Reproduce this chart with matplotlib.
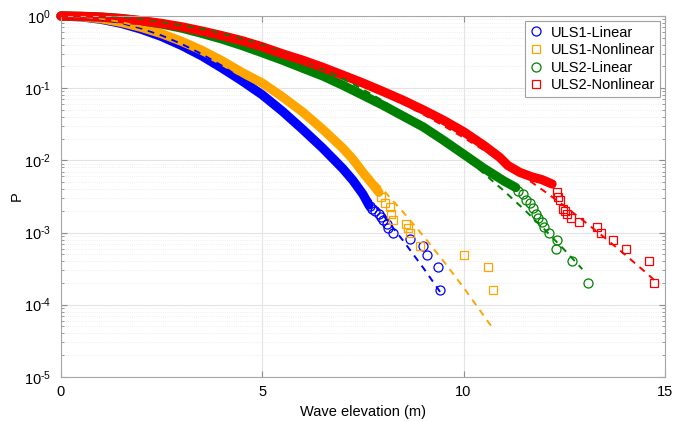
import matplotlib
matplotlib.use('Agg')
import matplotlib.pyplot as plt

plt.rcParams['font.family'] = ['Liberation Sans', 'DejaVu Sans']
plt.rcParams['mathtext.fontset'] = 'custom'
plt.rcParams['mathtext.rm'] = 'Liberation Sans'
plt.rcParams['mathtext.it'] = 'Liberation Sans:italic'

# ULS1 - linear (dense part and sparse tail of the exceedance curve)
blue_body_x = [0, 0.5, 1, 1.5, 2, 2.5, 3, 3.5, 4, 4.5, 5, 5.5, 6, 6.5, 7, 7.25, 7.5, 7.65]
blue_body_p = [1.0, 0.975, 0.90, 0.79, 0.655, 0.52, 0.39, 0.28, 0.19, 0.126, 0.081, 0.048,
               0.027, 0.0148, 0.0077, 0.0053, 0.0034, 0.0024]
blue_tail_x = [7.68, 7.72, 7.80, 7.90, 7.96, 8.00, 8.09, 8.13, 8.25, 8.68, 9.00, 9.10, 9.37, 9.41]
blue_tail_p = [2.3e-3, 2.13e-3, 1.97e-3, 1.8e-3, 1.64e-3, 1.48e-3, 1.31e-3, 1.15e-3, 9.8e-4,
               8.2e-4, 6.6e-4, 4.9e-4, 3.3e-4, 1.6e-4]
blue_fit_x = [0, 0.5, 1, 1.5, 2, 2.5, 3, 3.5, 4, 4.5, 5, 5.5, 6, 6.5, 7, 7.5, 8, 8.5, 9, 9.45]
blue_fit_p = [1.0, 0.9755, 0.906, 0.800, 0.673, 0.538, 0.410, 0.297, 0.2045, 0.134, 0.0838,
              0.0498, 0.0281, 0.01513, 0.00774, 0.00377, 0.00175, 7.71e-4, 3.24e-4, 1.42e-4]

# ULS1 - nonlinear
orange_body_x = [0, 0.5, 1, 1.5, 2, 2.5, 3, 3.5, 4, 4.5, 5, 5.5, 6, 6.5, 7, 7.25, 7.5, 7.75, 7.9]
orange_body_p = [1.0, 0.98, 0.915, 0.815, 0.695, 0.57, 0.445, 0.335, 0.24, 0.165, 0.118, 0.076,
                 0.047, 0.027, 0.0148, 0.0104, 0.0068, 0.0046, 0.0036]
orange_tail_x = [7.96, 8.05, 8.17, 8.21, 8.25, 8.57, 8.63, 8.67, 8.92, 10.02, 10.60, 10.74]
orange_tail_p = [3.1e-3, 2.6e-3, 2.26e-3, 1.8e-3, 1.48e-3, 1.31e-3, 1.15e-3, 9.8e-4, 6.6e-4,
                 4.9e-4, 3.3e-4, 1.6e-4]
orange_fit_x = [0, 0.5, 1, 1.5, 2, 2.5, 3, 3.5, 4, 4.5, 5, 5.5, 6, 6.5, 7, 7.5, 8, 8.5, 9,
                9.5, 10, 10.7]
orange_fit_p = [1.0, 0.979, 0.917, 0.823, 0.707, 0.582, 0.459, 0.346, 0.250, 0.173, 0.1148,
                0.0728, 0.0443, 0.0258, 0.01436, 0.00766, 0.00392, 0.00192, 9.0e-4, 4.03e-4,
                1.73e-4, 4.94e-5]

# ULS2 - linear
green_body_x = [0, 0.5, 1, 1.5, 2, 2.5, 3, 3.5, 4, 4.5, 5, 5.5, 6, 6.5, 7, 7.5, 8, 8.5, 9,
                9.5, 10, 10.5, 11, 11.3]
green_body_p = [1.0, 0.992, 0.97, 0.925, 0.86, 0.775, 0.68, 0.575, 0.48, 0.39, 0.31, 0.245,
                0.19, 0.148, 0.11, 0.08, 0.058, 0.041, 0.029, 0.019, 0.0122, 0.0078, 0.0052,
                0.0042]
green_tail_x = [11.36, 11.48, 11.56, 11.65, 11.73, 11.81, 11.85, 11.94, 12.00, 12.13, 12.33,
                12.29, 12.70, 13.08]
green_tail_p = [3.8e-3, 3.4e-3, 2.8e-3, 2.6e-3, 2.2e-3, 1.8e-3, 1.6e-3, 1.4e-3, 1.2e-3,
                1.0e-3, 8.0e-4, 6.0e-4, 4.0e-4, 2.0e-4]
green_fit_x = [0, 0.5, 1, 1.5, 2, 2.5, 3, 3.5, 4, 4.5, 5, 5.5, 6, 6.5, 7, 7.5, 8, 8.5, 9,
               9.5, 10, 10.5, 11, 11.5, 12, 12.5, 12.95]
green_fit_p = [1.0, 0.995, 0.976, 0.941, 0.890, 0.824, 0.747, 0.661, 0.571, 0.481, 0.394,
               0.315, 0.2446, 0.1847, 0.1355, 0.0966, 0.0668, 0.0448, 0.0292, 0.01837,
               0.01122, 0.00663, 0.00379, 0.0021, 0.00112, 5.8e-4, 3.11e-4]

# ULS2 - nonlinear
red_body_x = [0, 0.5, 1, 1.5, 2, 2.5, 3, 3.5, 4, 4.5, 5, 5.5, 6, 6.5, 7, 7.5, 8, 8.5, 9,
              9.5, 10, 10.5, 10.9, 11.1, 11.4, 11.7, 11.95, 12.2]
red_body_p = [1.0, 0.99, 0.965, 0.92, 0.86, 0.79, 0.71, 0.62, 0.535, 0.455, 0.375, 0.30,
              0.245, 0.195, 0.152, 0.118, 0.09, 0.068, 0.05, 0.036, 0.025, 0.0162, 0.011,
              0.0085, 0.0068, 0.0059, 0.0054, 0.0047]
red_tail_x = [12.31, 12.35, 12.40, 12.47, 12.52, 12.56, 12.66, 12.88, 13.32, 13.41, 13.71,
              14.04, 14.60, 14.74]
red_tail_p = [3.6e-3, 3.1e-3, 2.8e-3, 2.15e-3, 2.0e-3, 1.8e-3, 1.6e-3, 1.4e-3, 1.2e-3,
              1.0e-3, 8.0e-4, 6.0e-4, 4.0e-4, 2.0e-4]
red_fit_x = [0, 0.5, 1, 1.5, 2, 2.5, 3, 3.5, 4, 4.5, 5, 5.5, 6, 6.5, 7, 7.5, 8, 8.5, 9, 9.5,
             10, 10.5, 11, 11.5, 12, 12.5, 13, 13.5, 14, 14.5, 14.85]
red_fit_p = [1.0, 0.990, 0.962, 0.917, 0.856, 0.785, 0.705, 0.622, 0.538, 0.456, 0.379,
             0.3095, 0.2476, 0.1943, 0.1496, 0.1129, 0.0836, 0.0607, 0.0433, 0.0302, 0.0207,
             0.0139, 0.00917, 0.00593, 0.00376, 0.00234, 0.001426, 8.53e-4, 5.0e-4, 2.88e-4,
             1.93e-4]

labels = ['ULS1-Linear', 'ULS1-Nonlinear', 'ULS2-Linear', 'ULS2-Nonlinear']
colors = ['#0000ff', '#ffa500', '#008000', '#ff0000']
markers = ['o', 's', 'o', 's']
y_ticks = [1e-5, 1e-4, 1e-3, 1e-2, 1e-1, 1]
y_exps = ['-5', '-4', '-3', '-2', '-1', '0']

bodies = [(blue_body_x, blue_body_p), (orange_body_x, orange_body_p),
          (green_body_x, green_body_p), (red_body_x, red_body_p)]
tails = [(blue_tail_x, blue_tail_p), (orange_tail_x, orange_tail_p),
         (green_tail_x, green_tail_p), (red_tail_x, red_tail_p)]
fits = [(blue_fit_x, blue_fit_p), (orange_fit_x, orange_fit_p),
        (green_fit_x, green_fit_p), (red_fit_x, red_fit_p)]

fig = plt.figure(figsize=(6.77, 4.22), dpi=100)
ax = fig.add_axes([0.090, 0.107, 0.892, 0.855])

for i in range(4):
    bx, bp = bodies[i]
    tx, tp = tails[i]
    ax.plot(bx, bp, color=colors[i], lw=6.6, solid_capstyle='round', clip_on=False, zorder=2)
    ms = 6.5 if markers[i] == 'o' else 5.2
    ax.plot(tx, tp, ls='none', marker=markers[i], ms=ms, mfc='none', mec=colors[i],
            mew=0.9, label=labels[i], clip_on=False, zorder=3)

# fitted distributions drawn on top
for i in range(4):
    fx, fp = fits[i]
    ax.plot(fx, fp, color=colors[i], lw=1.4, dashes=(3.5, 3), zorder=4)

ax.set_yscale('log')
ax.set_xlim(0, 15)
ax.set_ylim(1e-5, 1)
ax.set_xticks([0, 5, 10, 15])
ax.set_yticks(y_ticks)
# short hyphen in the exponent, like the original
ax.set_yticklabels([r'$10^{\text{%s}}$' % e for e in y_exps])

ax.set_axisbelow(True)
ax.grid(True, which='major', color='#e3e3e3', lw=0.8)
ax.grid(True, which='minor', axis='y', color='#e8e8e8', lw=0.6, ls=':')

ax.tick_params(which='both', direction='in', top=True, right=True, color='#8c8c8c',
               labelsize=10.5)
ax.tick_params(which='major', length=4)
ax.tick_params(which='minor', length=2.2)
ax.tick_params(axis='x', pad=6)
ax.tick_params(axis='y', pad=7)
for s in ax.spines.values():
    s.set_color('#a6a6a6')
    s.set_linewidth(0.8)

ax.set_xlabel('Wave elevation (m)', fontsize=10.5, labelpad=4)
ax.set_ylabel('P', fontsize=10.5, labelpad=0)

leg = ax.legend(loc='upper right', fontsize=10.5, fancybox=False, edgecolor='#a0a0a0',
                framealpha=1, handlelength=1.0, handletextpad=0.5, borderpad=0.3,
                labelspacing=0.25, borderaxespad=0.35)
leg.get_frame().set_linewidth(0.8)

fig.savefig('out.png', dpi=100)
